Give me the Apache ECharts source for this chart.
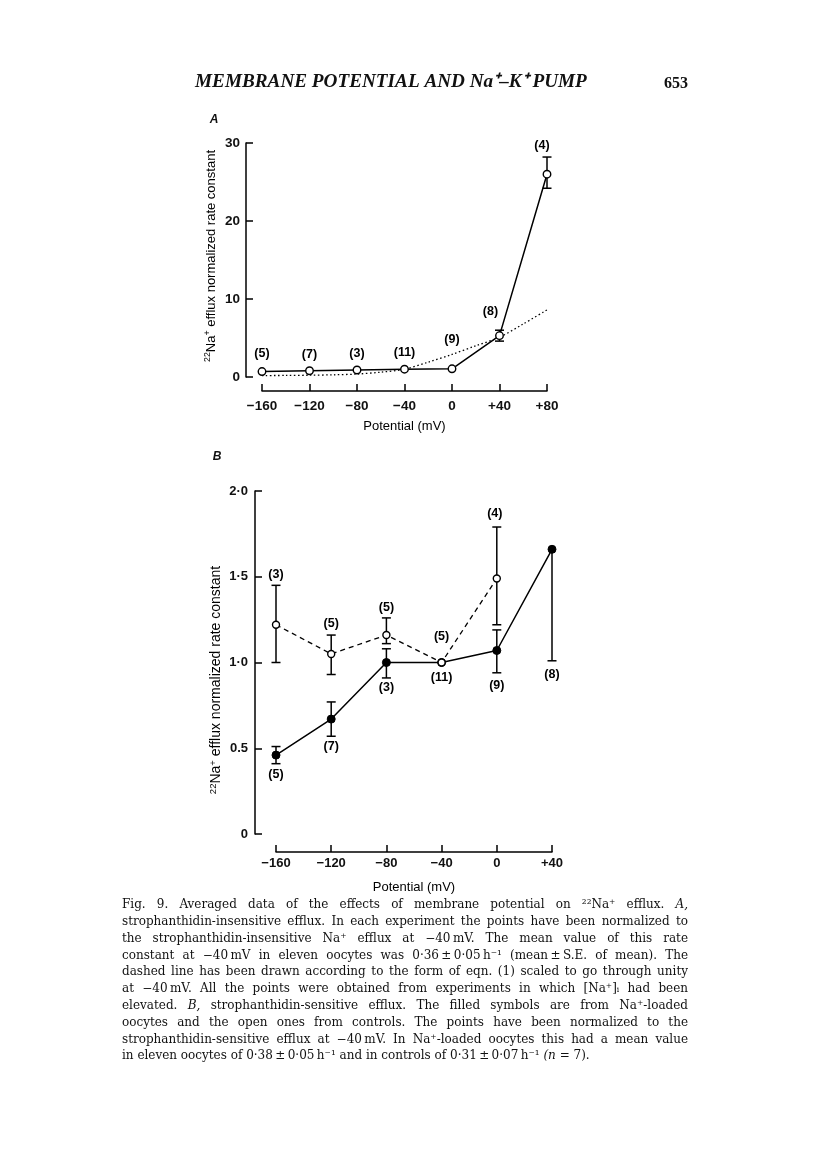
<!DOCTYPE html>
<html><head><meta charset="utf-8">
<script src="https://cdn.jsdelivr.net/npm/echarts@6/dist/echarts.min.js"></script>
<style>html,body{margin:0;padding:0;background:#fff}#c{width:816px;height:1170px}</style>
</head><body><div id="c"></div>
<script>
// ---------- DATA ----------
// Panel A: strophanthidin-insensitive efflux
const potA = [-160, -120, -80, -40, 0, 40, 80];
const effluxA = [0.7, 0.8, 0.9, 1.0, 1.05, 5.3, 26.0];
const errLoA = [null, null, null, null, null, 4.6, 24.2];
const errHiA = [null, null, null, null, null, 6.0, 28.2];
const nA = ['(5)', '(7)', '(3)', '(11)', '(9)', '(8)', '(4)'];
// dotted line: eqn (1) scaled through unity at -40 mV
const eqnPotA = [-160, -140, -120, -100, -80, -60, -40, -20, 0, 20, 40, 60, 80];
const eqnA = [0.18, 0.2, 0.23, 0.28, 0.38, 0.62, 1.0, 1.9, 2.9, 4.0, 5.1, 6.8, 8.6];
const yTicksA = ['0', '10', '20', '30'];

// Panel B: strophanthidin-sensitive efflux
const potB = [-160, -120, -80, -40, 0, 40];
const controlB = [1.22, 1.05, 1.16, 1.0, 1.49];
const controlLoB = [1.0, 0.93, 1.11, null, 1.22];
const controlHiB = [1.45, 1.16, 1.26, null, 1.79];
const nControlB = ['(3)', '(5)', '(5)', '(5)', '(4)'];
const loadedB = [0.46, 0.67, 1.0, 1.0, 1.07, 1.66];
const loadedLoB = [0.41, 0.57, 0.91, null, 0.94, 1.01];
const loadedHiB = [0.51, 0.77, 1.08, null, 1.19, null];
const nLoadedB = ['(5)', '(7)', '(3)', '(11)', '(9)', '(8)'];
const yTicksB = ['0', '0.5', '1·0', '1·5', '2·0'];

const xTitle = 'Potential (mV)';
const yTitleRich = '{s|22}Na{s|+} efflux normalized rate constant';
const headerText = 'MEMBRANE POTENTIAL AND Na\u207A\u2013K\u207A PUMP';
const pageNo = '653';
const caption = [
  'Fig. 9. Averaged data of the effects of membrane potential on \u00B2\u00B2Na\u207A efflux. *A,',
  'strophanthidin-insensitive efflux. In each experiment the points have been normalized to',
  'the strophanthidin-insensitive Na\u207A efflux at \u221240\u2009mV. The mean value of this rate',
  'constant at \u221240\u2009mV in eleven oocytes was 0\u00B736\u2009\u00B1\u20090\u00B705\u2009h\u207B\u00B9 (mean\u2009\u00B1\u2009S.E. of mean). The',
  'dashed line has been drawn according to the form of eqn. (1) scaled to go through unity',
  'at \u221240\u2009mV. All the points were obtained from experiments in which [Na\u207A]\u1D62 had been',
  'elevated. *B, strophanthidin-sensitive efflux. The filled symbols are from Na\u207A-loaded',
  'oocytes and the open ones from controls. The points have been normalized to the',
  'strophanthidin-sensitive efflux at \u221240\u2009mV. In Na\u207A-loaded oocytes this had a mean value',
  'in eleven oocytes of 0\u00B738\u2009\u00B1\u20090\u00B705\u2009h\u207B\u00B9 and in controls of 0\u00B731\u2009\u00B1\u20090\u00B707\u2009h\u207B\u00B9 *(n = 7).'
];

// ---------- LAYOUT / STYLE ----------
const labDxA = [0, 0, 0, 0, 0, -9, -5];
const labDyA = [-18, -16, -16, -17, -29, -24, -29];
const labDyControlB = [-50, -30, -28, -26, -65];
const labDxControlB = [0, 0, 0, 0, -2];
const labDyLoadedB = [19, 27, 25, 15, 35, 125];
const labDxLoadedB = [0, 0, 0, 0, 0, 0];

const SANS = '"Liberation Sans", Arial, sans-serif';
const SERIF = '"DejaVu Serif", serif';
const tickLabel = (size) => ({ color: '#111', fontSize: size, fontWeight: 'bold', fontFamily: SANS });

function fmtPot(v) { return v > 0 ? '+' + v : (v < 0 ? '\u2212' + (-v) : '0'); }

function errorSeries(xs, vals, lo, hi, ax) {
  const data = [];
  vals.forEach((v, i) => { if (lo[i] != null || hi[i] != null) data.push([xs[i], v, i]); });
  return {
    type: 'custom', xAxisIndex: ax, yAxisIndex: ax, z: 1, silent: true,
    data: data, encode: { x: 0, y: 1 },
    renderItem(params, api) {
      const i = api.value(2), x = api.value(0), v = api.value(1);
      const top = hi[i] != null ? hi[i] : v, bot = lo[i] != null ? lo[i] : v;
      const pT = api.coord([x, top]), pB = api.coord([x, bot]);
      const st = { stroke: '#000', lineWidth: 1.5 };
      const w = 4.5;
      const ch = [{ type: 'line', shape: { x1: pT[0], y1: pT[1], x2: pB[0], y2: pB[1] }, style: st }];
      if (hi[i] != null) ch.push({ type: 'line', shape: { x1: pT[0] - w, y1: pT[1], x2: pT[0] + w, y2: pT[1] }, style: st });
      if (lo[i] != null) ch.push({ type: 'line', shape: { x1: pB[0] - w, y1: pB[1], x2: pB[0] + w, y2: pB[1] }, style: st });
      return { type: 'group', children: ch };
    }
  };
}

function labelSeries(xs, vals, texts, dx, dy, ax) {
  return {
    type: 'custom', xAxisIndex: ax, yAxisIndex: ax, z: 5, silent: true,
    data: vals.map((v, i) => [xs[i], v, i]), encode: { x: 0, y: 1 },
    renderItem(params, api) {
      const i = api.value(2);
      const p = api.coord([api.value(0), api.value(1)]);
      return {
        type: 'text', x: p[0] + dx[i], y: p[1] + dy[i],
        style: { text: texts[i], fill: '#000', fontSize: 12.5, fontWeight: 'bold', fontFamily: SANS,
          align: 'center', verticalAlign: 'middle', textAlign: 'center', textVerticalAlign: 'middle' }
      };
    }
  };
}

function xAxis(grid, min, max, offset, margin, size) {
  return {
    gridIndex: grid, type: 'value', min: min, max: max, interval: 40, offset: offset, position: 'bottom',
    axisLine: { show: true, onZero: false, lineStyle: { color: '#000', width: 1.5 } },
    axisTick: { show: true, inside: true, length: 7, lineStyle: { color: '#000', width: 1.5 } },
    axisLabel: Object.assign({ margin: margin, formatter: fmtPot }, tickLabel(size)),
    splitLine: { show: false },
    name: xTitle, nameLocation: 'middle', nameGap: 29,
    nameTextStyle: { color: '#000', fontSize: 13, fontFamily: SANS }
  };
}

const pair = (xs, ys) => ys.map((y, i) => [xs[i], y]);

// ---------- CAPTION (justified, word by word) ----------
const measureCtx = document.createElement('canvas').getContext('2d');
function wordFont(size, italic) { return (italic ? 'italic ' : '') + size + 'px ' + SERIF; }
function wWidth(w, size) {
  const it = w.startsWith('*');
  measureCtx.font = wordFont(size, it);
  return measureCtx.measureText(it ? w.slice(1) : w).width;
}
const CAP_L = 122, CAP_R = 688, CAP_Y0 = 905, CAP_DY = 16.8;
let capSize = 12;
(function fit() {
  let worst = 0;
  caption.forEach((line, k) => {
    if (k === caption.length - 1) return;
    const words = line.split(' ');
    const sp = (measureCtx.font = wordFont(12, false), measureCtx.measureText(' ').width);
    let tot = 0; words.forEach(w => tot += wWidth(w, 12));
    tot += sp * (words.length - 1);
    worst = Math.max(worst, tot);
  });
  capSize = Math.min(12, 12 * (CAP_R - CAP_L) / worst);
})();
const captionEls = [];
caption.forEach((line, k) => {
  const words = line.split(' ');
  const widths = words.map(w => wWidth(w, capSize));
  const sum = widths.reduce((a, b) => a + b, 0);
  measureCtx.font = wordFont(capSize, false);
  const sp = measureCtx.measureText(' ').width;
  const gap = (k === caption.length - 1) ? sp : (CAP_R - CAP_L - sum) / (words.length - 1);
  let x = CAP_L;
  words.forEach((w, j) => {
    const it = w.startsWith('*');
    captionEls.push({
      type: 'text', x: x, y: CAP_Y0 + k * CAP_DY, silent: true,
      style: { text: it ? w.slice(1) : w, fill: '#111', fontSize: capSize, fontFamily: SERIF,
        fontStyle: it ? 'italic' : 'normal', align: 'left', verticalAlign: 'middle',
        textAlign: 'left', textVerticalAlign: 'middle' }
    });
    x += widths[j] + gap;
  });
});

// header fit
measureCtx.font = 'italic bold 16px "Liberation Serif"';
const headSize = 16 * 392 / measureCtx.measureText(headerText).width;

const yTitleStyle = (x, y, size) => ({
  type: 'text', x: x, y: y, rotation: Math.PI / 2, silent: true,
  style: { text: yTitleRich, fill: '#000', fontSize: size, fontFamily: SANS,
    align: 'center', verticalAlign: 'middle', textAlign: 'center', textVerticalAlign: 'middle',
    rich: { s: { fontSize: size * 0.68, fontFamily: SANS, padding: [0, 0, 6, 0] } } }
});

const chart = echarts.init(document.getElementById('c'), null, { renderer: 'canvas' });
chart.setOption({
  backgroundColor: '#fff',
  animation: false,
  grid: [
    { left: 262, top: 143, width: 285, height: 234 },
    { left: 276, top: 491, width: 276, height: 343 }
  ],
  xAxis: [xAxis(0, -160, 80, 14, 8, 13.5), xAxis(1, -160, 40, 18, 5, 13)],
  yAxis: [
    {
      gridIndex: 0, type: 'value', min: 0, max: 30, interval: 10, offset: 16,
      axisLine: { show: true, onZero: false, lineStyle: { color: '#000', width: 1.5 } },
      axisTick: { show: true, inside: true, length: 7, lineStyle: { color: '#000', width: 1.5 } },
      axisLabel: Object.assign({ margin: 6, formatter: (v) => yTicksA[Math.round(v / 10)] }, tickLabel(13.5)),
      splitLine: { show: false }
    },
    {
      gridIndex: 1, type: 'value', min: 0, max: 2, interval: 0.5, offset: 21,
      axisLine: { show: true, onZero: false, lineStyle: { color: '#000', width: 1.5 } },
      axisTick: { show: true, inside: true, length: 7, lineStyle: { color: '#000', width: 1.5 } },
      axisLabel: Object.assign({ margin: 7, formatter: (v) => yTicksB[Math.round(v / 0.5)] }, tickLabel(13)),
      splitLine: { show: false }
    }
  ],
  graphic: [
    { type: 'text', x: 195, y: 82, silent: true,
      style: { text: headerText, fill: '#111', fontSize: headSize, fontFamily: '"Liberation Serif", serif',
        fontStyle: 'italic', fontWeight: 'bold', align: 'left', verticalAlign: 'middle', textAlign: 'left', textVerticalAlign: 'middle' } },
    { type: 'text', x: 688, y: 84, silent: true,
      style: { text: pageNo, fill: '#111', fontSize: 16, fontFamily: '"Liberation Serif", serif', fontWeight: 'bold',
        align: 'right', verticalAlign: 'middle', textAlign: 'right', textVerticalAlign: 'middle' } },
    { type: 'text', x: 214, y: 120, silent: true,
      style: { text: 'A', fill: '#111', fontSize: 12, fontFamily: SANS, fontStyle: 'italic', fontWeight: 'bold',
        align: 'center', verticalAlign: 'middle', textAlign: 'center', textVerticalAlign: 'middle' } },
    { type: 'text', x: 217, y: 457, silent: true,
      style: { text: 'B', fill: '#111', fontSize: 12, fontFamily: SANS, fontStyle: 'italic', fontWeight: 'bold',
        align: 'center', verticalAlign: 'middle', textAlign: 'center', textVerticalAlign: 'middle' } },
    yTitleStyle(211, 256, 13),
    yTitleStyle(216, 680, 14)
  ].concat(captionEls),
  series: [
    { type: 'line', xAxisIndex: 0, yAxisIndex: 0, data: pair(eqnPotA, eqnA), smooth: 0.3, showSymbol: false,
      z: 1, silent: true, lineStyle: { color: '#000', width: 1.3, type: [1.5, 2.5] } },
    errorSeries(potA, effluxA, errLoA, errHiA, 0),
    { type: 'line', xAxisIndex: 0, yAxisIndex: 0, data: pair(potA, effluxA), symbol: 'circle', symbolSize: 7.5,
      z: 3, silent: true, lineStyle: { color: '#000', width: 1.5 },
      itemStyle: { color: '#fff', borderColor: '#000', borderWidth: 1.4 } },
    labelSeries(potA, effluxA, nA, labDxA, labDyA, 0),

    errorSeries(potB, controlB, controlLoB, controlHiB, 1),
    errorSeries(potB, loadedB, loadedLoB, loadedHiB, 1),
    { type: 'line', xAxisIndex: 1, yAxisIndex: 1, data: pair(potB, controlB), symbol: 'circle', symbolSize: 7,
      z: 3, silent: true, lineStyle: { color: '#000', width: 1.3, type: [5, 4] },
      itemStyle: { color: '#fff', borderColor: '#000', borderWidth: 1.4 } },
    { type: 'line', xAxisIndex: 1, yAxisIndex: 1, data: pair(potB, loadedB), symbol: 'circle', symbolSize: 8,
      z: 2, silent: true, lineStyle: { color: '#000', width: 1.5 },
      itemStyle: { color: '#000', borderColor: '#000', borderWidth: 1 } },
    labelSeries(potB, controlB, nControlB, labDxControlB, labDyControlB, 1),
    labelSeries(potB, loadedB, nLoadedB, labDxLoadedB, labDyLoadedB, 1)
  ]
});
</script></body></html>
